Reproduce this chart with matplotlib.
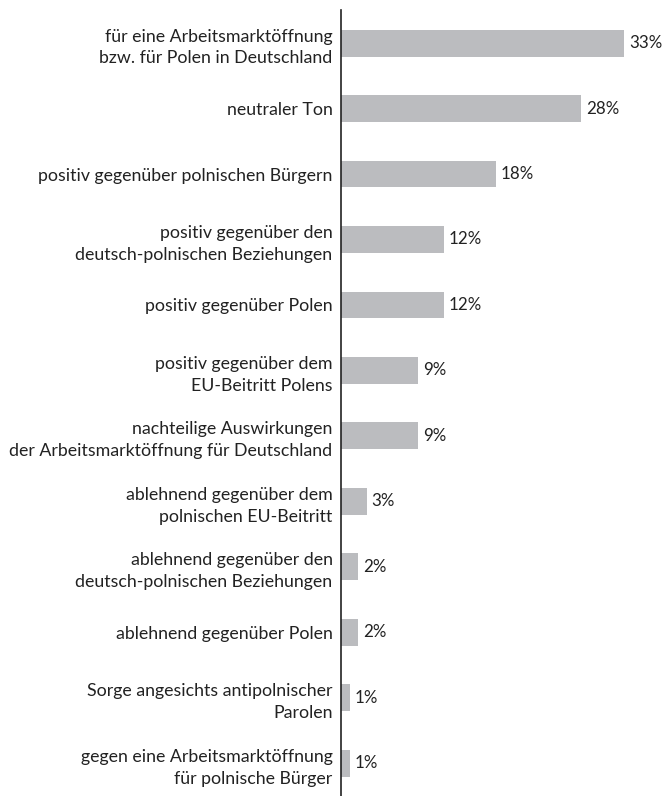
import matplotlib.pyplot as plt

plt.rcParams['font.family'] = ['Lato', 'DejaVu Sans']

# Tonality of the coverage, share of articles in percent
categories = [
    'für eine Arbeitsmarktöffnung\nbzw. für Polen in Deutschland',
    'neutraler Ton',
    'positiv gegenüber polnischen Bürgern',
    'positiv gegenüber den\ndeutsch-polnischen Beziehungen',
    'positiv gegenüber Polen',
    'positiv gegenüber dem\nEU-Beitritt Polens',
    'nachteilige Auswirkungen\nder Arbeitsmarktöffnung für Deutschland',
    'ablehnend gegenüber dem\npolnischen EU-Beitritt',
    'ablehnend gegenüber den\ndeutsch-polnischen Beziehungen',
    'ablehnend gegenüber Polen',
    'Sorge angesichts antipolnischer\nParolen',
    'gegen eine Arbeitsmarktöffnung\nfür polnische Bürger',
]
shares = [33, 28, 18, 12, 12, 9, 9, 3, 2, 2, 1, 1]
value_labels = ['33%', '28%', '18%', '12%', '12%', '9%', '9%', '3%', '2%', '2%', '1%', '1%']

fig = plt.figure(figsize=(6.62, 7.96), dpi=100)
ax = fig.add_axes([0.515, 0.0, 0.48, 0.987])

pos = list(range(len(categories)))
ax.barh(pos, shares, height=0.41, color='#bbbcbf')

for y, v, lab in zip(pos, shares, value_labels):
    ax.annotate(lab, (v, y), xytext=(3.5, 0), textcoords='offset points',
                va='center', ha='left', fontsize=12.2, color='#222222')

ax.set_yticks(pos)
ax.set_yticklabels(categories, fontsize=12.8, color='#222222', linespacing=1.45)
ax.tick_params(axis='y', length=0, pad=6)
ax.set_ylim(11.5, -0.5)
ax.set_xlim(0, 37)
ax.set_xticks([])

for side in ['top', 'right', 'bottom']:
    ax.spines[side].set_visible(False)
ax.spines['left'].set_linewidth(1.2)
ax.spines['left'].set_color('#222222')

fig.savefig('out.png', dpi=100)
